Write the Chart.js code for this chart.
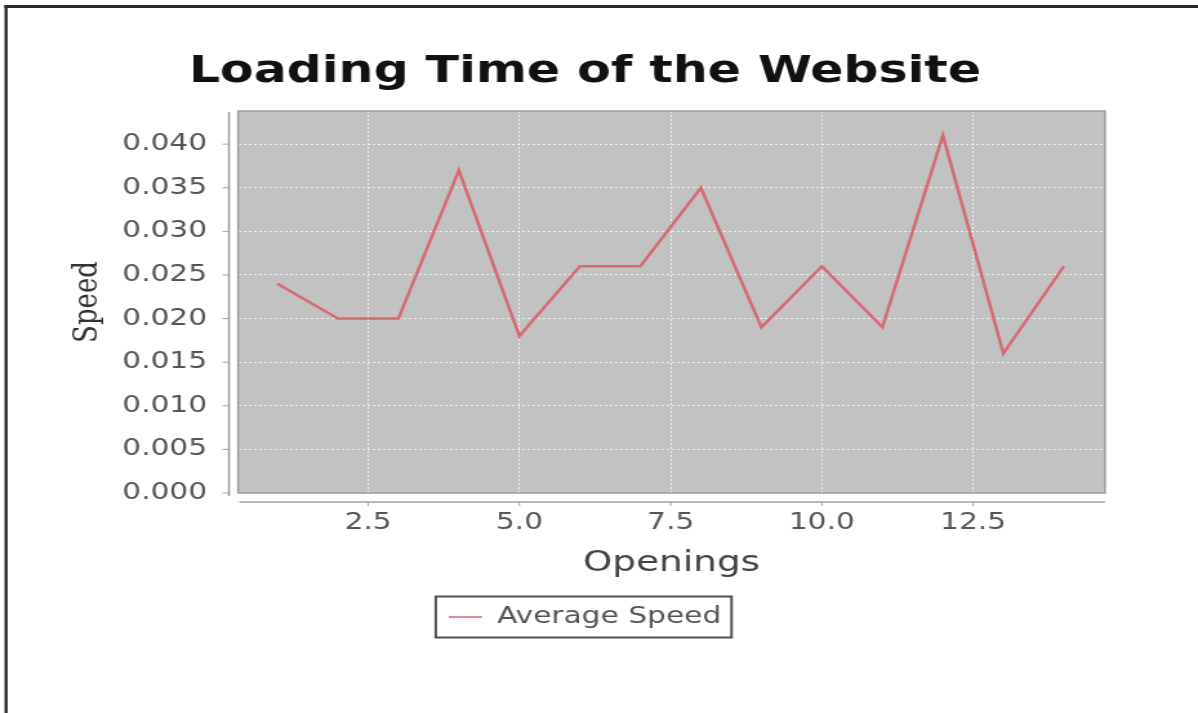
<!DOCTYPE html>
<html>
<head>
<meta charset="utf-8">
<script src="https://cdn.jsdelivr.net/npm/chart.js@4.4.0/dist/chart.umd.min.js"></script>
<style>
  html, body { margin: 0; padding: 0; background: #fff; overflow: hidden; }
  /* the source picture is stretched sideways, so the chart is too */
  #wrap { position: absolute; left: 0; top: 0; width: 929px; height: 713px; transform: scaleX(1.28956); transform-origin: 0 0; }
</style>
</head>
<body>
<div id="wrap"><canvas id="myChart"></canvas></div>
<script>
const openings = [1, 2, 3, 4, 5, 6, 7, 8, 9, 10, 11, 12, 13, 14];
const avgSpeed = [0.024, 0.020, 0.020, 0.037, 0.018, 0.026, 0.026, 0.035, 0.019, 0.026, 0.019, 0.041, 0.016, 0.026];
const xTicks = [2.5, 5.0, 7.5, 10.0, 12.5];
const yTicks = [0, 0.005, 0.010, 0.015, 0.020, 0.025, 0.030, 0.035, 0.040];

const AXIS = "#a0a0a0";

const framePlugin = {
  id: "frame",
  beforeDraw(chart) {
    const { ctx, chartArea: a } = chart;
    ctx.save();
    // outer picture frame (left + top only)
    ctx.fillStyle = "#2a2a2a";
    ctx.fillRect(3.5, 5, 2.4, chart.height - 5);
    ctx.fillRect(3.5, 5, chart.width, 3);
    // plot background
    ctx.fillStyle = "#c2c2c2";
    ctx.fillRect(a.left, a.top, a.right - a.left, a.bottom - a.top);
    ctx.restore();
  },
  afterDraw(chart) {
    const { ctx, chartArea: a, scales } = chart;
    ctx.save();
    // plot outline
    ctx.strokeStyle = "#9c9c9c";
    ctx.lineWidth = 1.5;
    ctx.strokeRect(a.left, a.top, a.right - a.left, a.bottom - a.top);
    // offset axis lines
    ctx.strokeStyle = AXIS;
    ctx.lineWidth = 1.6;
    ctx.beginPath();
    ctx.moveTo(a.left - 7, a.top + 1);
    ctx.lineTo(a.left - 7, a.bottom + 3);
    ctx.moveTo(a.left + 1, a.bottom + 9);
    ctx.lineTo(a.right, a.bottom + 9);
    ctx.stroke();
    ctx.lineWidth = 1;
    ctx.beginPath();
    scales.y.ticks.forEach(t => {
      const y = scales.y.getPixelForValue(t.value);
      ctx.moveTo(a.left - 12, y);
      ctx.lineTo(a.left - 7, y);
    });
    scales.x.ticks.forEach(t => {
      const x = scales.x.getPixelForValue(t.value);
      ctx.moveTo(x, a.bottom + 9);
      ctx.lineTo(x, a.bottom + 13);
    });
    ctx.stroke();
    // legend frame
    const h = chart.legend.legendHitBoxes[0];
    if (h) {
      const cy = h.top + h.height / 2;
      ctx.strokeStyle = "#505050";
      ctx.lineWidth = 2;
      ctx.strokeRect(h.left - 10, cy - 20.5, h.width + 18, 41);
    }
    ctx.restore();
  }
};

const ctx = document.getElementById("myChart");
new Chart(ctx, {
  type: "line",
  data: {
    datasets: [{
      label: "Average Speed",
      data: openings.map((x, i) => ({ x: x, y: avgSpeed[i] })),
      borderColor: "#d66a72",
      backgroundColor: "#d66a72",
      borderWidth: 2.5,
      pointRadius: 0,
      tension: 0,
    }],
  },
  options: {
    responsive: true,
    maintainAspectRatio: false,
    animation: false,
    layout: {
      padding: { left: 50.3, right: 72.1, top: 0, bottom: 74.5 },
    },
    scales: {
      x: {
        type: "linear",
        min: 0.35,
        max: 14.68,
        afterFit(scale) { scale.height = 92; },
        afterBuildTicks(scale) { scale.ticks = xTicks.map(v => ({ value: v })); },
        ticks: {
          padding: 16,
          color: "#555",
          font: { family: "DejaVu Sans", size: 23 },
          callback: v => Number(v).toFixed(1),
        },
        grid: { color: "rgba(255,255,255,0.8)", lineWidth: 1, drawTicks: false },
        border: { display: false, dash: [2, 2] },
        title: {
          display: true,
          text: "Openings",
          color: "#444",
          font: { family: "DejaVu Sans", size: 29 },
          padding: { top: 0, bottom: 4.6 },
        },
      },
      y: {
        min: 0,
        max: 0.0438,
        afterFit(scale) { scale.width = 134.3; },
        afterBuildTicks(scale) { scale.ticks = yTicks.map(v => ({ value: v })); },
        ticks: {
          padding: 24,
          color: "#555",
          font: { family: "DejaVu Sans", size: 23 },
          callback: v => Number(v).toFixed(3),
        },
        grid: { color: "rgba(255,255,255,0.8)", lineWidth: 1, drawTicks: false },
        border: { display: false, dash: [2, 2] },
        title: {
          display: true,
          text: "Speed",
          color: "#333",
          font: { family: "DejaVu Serif", size: 26 },
          padding: { top: 2.3, bottom: 0 },
        },
      },
    },
    plugins: {
      title: {
        display: true,
        text: "Loading Time of the Website",
        color: "#111",
        font: { family: "DejaVu Sans", size: 38, weight: "bold" },
        padding: { top: 49.2, bottom: 16.2 },
      },
      legend: {
        position: "bottom",
        labels: {
          boxWidth: 26,
          boxHeight: 1.5,
          padding: 20.5,
          color: "#555",
          font: { family: "DejaVu Sans", size: 23 },
          generateLabels(chart) {
            const items = Chart.defaults.plugins.legend.labels.generateLabels(chart);
            items.forEach(it => { it.lineWidth = 0; });
            return items;
          },
        },
      },
      tooltip: { enabled: false },
    },
  },
  plugins: [framePlugin],
});
</script>
</body>
</html>
